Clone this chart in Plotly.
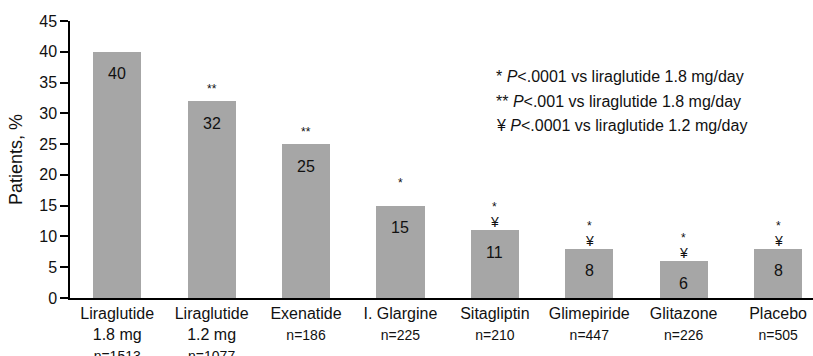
import plotly.graph_objects as go

categories = ["Liraglutide<br>1.8 mg", "Liraglutide<br>1.2 mg", "Exenatide", "I. Glargine",
              "Sitagliptin", "Glimepiride", "Glitazone", "Placebo"]
n_labels = ["n=1513", "n=1077", "n=186", "n=225", "n=210", "n=447", "n=226", "n=505"]
values = [40, 32, 25, 15, 11, 8, 6, 8]
star_marks = ["", "**", "**", "*", "*", "*", "*", "*"]
yen_marks = ["", "", "", "", "¥", "¥", "¥", "¥"]
y_ticks = [0, 5, 10, 15, 20, 25, 30, 35, 40, 45]
footnotes = ["* <i>P</i><.0001 vs liraglutide 1.8 mg/day",
             "** <i>P</i><.001 vs liraglutide 1.8 mg/day",
             "¥ <i>P</i><.0001 vs liraglutide 1.2 mg/day"]

FONT = "Liberation Sans, Arial, sans-serif"
xs = list(range(len(categories)))

fig = go.Figure()
fig.add_trace(go.Bar(x=xs, y=values, width=0.51, marker=dict(color="#a6a6a6", line=dict(width=0)),
                     hoverinfo="skip"))

annotations = []
for i, v in enumerate(values):
    annotations.append(dict(x=i, y=v, xref="x", yref="y", text=str(v), showarrow=False,
                            yanchor="middle", yshift=-22, font=dict(size=16, color="#111", family=FONT)))
    if yen_marks[i]:
        annotations.append(dict(x=i, y=v, xref="x", yref="y", text=yen_marks[i], showarrow=False,
                                yanchor="middle", yshift=8, font=dict(size=14, color="#111", family=FONT)))
    if star_marks[i]:
        two_line = bool(yen_marks[i]) or star_marks[i] == "*"
        annotations.append(dict(x=i, y=v, xref="x", yref="y", text=star_marks[i], showarrow=False,
                                yanchor="middle", yshift=23 if two_line else 12,
                                font=dict(size=12, color="#111", family=FONT)))

for k, t in enumerate(footnotes):
    annotations.append(dict(x=0.571, y=0.798 - k * 0.087, xref="paper", yref="paper", text=t,
                            showarrow=False, xanchor="left", yanchor="middle",
                            font=dict(size=16, color="#111", family=FONT)))

ticktext = [f"{c}<br><span style='font-size:14px'>{n}</span>" for c, n in zip(categories, n_labels)]

fig.update_layout(
    width=813, height=356,
    margin=dict(l=70, r=0, t=21, b=58, autoexpand=False),
    plot_bgcolor="white", paper_bgcolor="white",
    showlegend=False,
    font=dict(family=FONT, color="#111"),
    annotations=annotations,
    bargap=0,
)
fig.update_xaxes(range=[-0.5, 7.37], tickmode="array", tickvals=xs, ticktext=ticktext,
                 showline=True, linecolor="black", linewidth=1.5, ticks="", showgrid=False,
                 zeroline=False, tickfont=dict(size=16, color="#111"), fixedrange=True,
                 automargin=False)
fig.update_yaxes(range=[0, 45], tickmode="array", tickvals=y_ticks, showline=True, linecolor="black",
                 linewidth=1.5, ticks="outside", ticklen=8, tickwidth=1.5, tickcolor="black",
                 showgrid=False, zeroline=False, tickfont=dict(size=16, color="#111"),
                 title=dict(text="Patients, %", font=dict(size=18, color="#111"), standoff=12),
                 fixedrange=True, automargin=False)

fig.write_html("out.html", config={"displayModeBar": False},
               post_script="document.body.style.margin='0';document.body.style.overflow='hidden';")
